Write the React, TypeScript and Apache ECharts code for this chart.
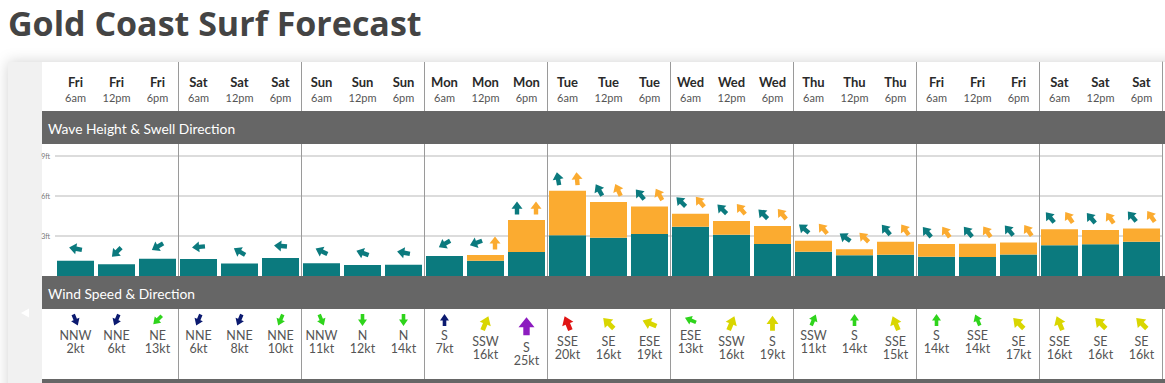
import React, { useEffect, useRef } from 'react';
import * as echarts from 'echarts';

// ---------- data ----------
const days = ['Fri', 'Sat', 'Sun', 'Mon', 'Tue', 'Wed', 'Thu', 'Fri', 'Sat'];
const times = ['6am', '12pm', '6pm'];

// wave heights in feet
const primarySwell = [1.15, 0.88, 1.3, 1.28, 0.93, 1.35, 0.95, 0.83, 0.85, 1.5, 1.15, 1.8, 3.05, 2.87, 3.15, 3.7, 3.1, 2.4, 1.82, 1.55, 1.6, 1.45, 1.42, 1.62, 2.3, 2.38, 2.57];
const secondarySwell = [0, 0, 0, 0, 0, 0, 0, 0, 0, 0, 0.43, 2.4, 3.35, 2.68, 2.07, 0.97, 1.02, 1.35, 0.83, 0.45, 0.97, 0.95, 1.0, 0.9, 1.2, 1.07, 1.0];
// direction the swell arrow points to (degrees clockwise from north)
const primaryDir = [280, 225, 240, 265, 300, 275, 295, 290, 280, 240, 250, 0, 350, 330, 320, 315, 315, 315, 310, 305, 320, 320, 320, 320, 320, 320, 320];
const secondaryDir = [-1, -1, -1, -1, -1, -1, -1, -1, -1, -1, 0, 0, 355, 335, 330, 320, 320, 320, 320, 315, 325, 325, 325, 325, 325, 325, 325];

const windDir = ['NNW', 'NNE', 'NE', 'NNE', 'NNE', 'NNE', 'NNW', 'N', 'N', 'S', 'SSW', 'S', 'SSE', 'SE', 'ESE', 'ESE', 'SSW', 'S', 'SSW', 'S', 'SSE', 'S', 'SSE', 'SE', 'SSE', 'SE', 'SE'];
const windSpeed = [2, 6, 13, 6, 8, 10, 11, 12, 14, 7, 16, 25, 20, 16, 19, 13, 16, 19, 11, 14, 15, 14, 14, 17, 16, 16, 16];

const yTicks = [0, 3, 6, 9];

// ---------- styles ----------
const TEAL = '#0b7a7e';
const ORANGE = '#fbab30';
const GRAY_BAR = '#666666';
const SEP = '#9a9a9a';
const FONT = 'Lato, "Noto Sans", sans-serif';

const COMPASS: Record<string, number> = {
  N: 0, NNE: 22.5, NE: 45, ENE: 67.5, E: 90, ESE: 112.5, SE: 135, SSE: 157.5,
  S: 180, SSW: 202.5, SW: 225, WSW: 247.5, W: 270, WNW: 292.5, NW: 315, NNW: 337.5,
};

const ARROW = 'M5 0 L10 5.5 L7 5.5 L7 10 L3 10 L3 5.5 L0 5.5 Z';

function arrowEl(cx: number, cy: number, w: number, l: number, bearing: number, color: string) {
  return {
    type: 'path',
    x: cx,
    y: cy,
    rotation: (-bearing * Math.PI) / 180,
    shape: { pathData: ARROW, x: -w / 2, y: -l / 2, width: w, height: l, layout: 'cover' },
    style: { fill: color },
  };
}

function windColor(s: number) {
  if (s < 10) return '#0b1a70';
  if (s < 15) return '#2fd41c';
  if (s < 20) return '#d9d600';
  if (s < 25) return '#e01414';
  return '#8c1cbf';
}

const categories = days.flatMap((d) => times.map((t) => `${d} ${t}`));

export default function App() {
  const ref = useRef<HTMLDivElement>(null);

  useEffect(() => {
    if (!ref.current) return;
    const chart = echarts.init(ref.current, undefined, { renderer: 'svg' });

    const option: any = {
      animation: false,
      grid: [
        { left: 55, right: 3, top: 62, bottom: 4 }, // frame (header + separators)
        { left: 55, right: 3, top: 156, height: 120 }, // waves
        { left: 55, right: 3, top: 314, height: 65 }, // wind
      ],
      xAxis: [
        {
          gridIndex: 0,
          type: 'category',
          data: categories,
          position: 'top',
          axisLine: { show: false },
          axisTick: { show: false },
          axisLabel: {
            inside: true,
            interval: 0,
            margin: 11,
            formatter: (_v: string, i: number) => `{d|${days[Math.floor(i / 3)]}}\n{t|${times[i % 3]}}`,
            rich: {
              d: { fontFamily: FONT, fontWeight: 'bold', fontSize: 13, color: '#2a2a2a', lineHeight: 17, align: 'center' },
              t: { fontFamily: FONT, fontSize: 11, color: '#555', lineHeight: 15, align: 'center' },
            },
          },
          splitLine: {
            show: true,
            interval: (i: number) => i % 3 === 0 && i > 0,
            lineStyle: { color: SEP, width: 1 },
          },
        },
        { gridIndex: 1, type: 'category', data: categories, show: false },
        { gridIndex: 2, type: 'category', data: categories, show: false },
      ],
      yAxis: [
        {
          gridIndex: 0,
          type: 'value',
          min: 0,
          max: 1,
          position: 'right',
          axisLine: { show: true, lineStyle: { color: SEP, width: 1 } },
          axisTick: { show: false },
          axisLabel: { show: false },
          splitLine: { show: false },
        },
        {
          gridIndex: 1,
          type: 'value',
          min: yTicks[0],
          max: yTicks[yTicks.length - 1],
          interval: 3,
          axisLine: { show: false },
          axisTick: { show: false },
          axisLabel: {
            margin: 5,
            fontSize: 7,
            color: '#777',
            fontFamily: FONT,
            formatter: (v: number) => (v === 0 ? '' : `${v}ft`),
          },
          splitLine: {
            show: true,
            lineStyle: { color: ['rgba(0,0,0,0)', '#dcdcdc', '#dcdcdc', '#dcdcdc'], width: 2 },
          },
        },
        { gridIndex: 2, type: 'value', show: false, min: 0, max: 1 },
      ],
      series: [
        {
          type: 'bar',
          xAxisIndex: 1,
          yAxisIndex: 1,
          stack: 'swell',
          barWidth: 37,
          data: primarySwell,
          itemStyle: { color: TEAL },
        },
        {
          type: 'bar',
          xAxisIndex: 1,
          yAxisIndex: 1,
          stack: 'swell',
          barWidth: 37,
          data: secondarySwell,
          itemStyle: { color: ORANGE },
        },
        {
          type: 'custom',
          xAxisIndex: 1,
          yAxisIndex: 1,
          data: primarySwell.map((p, i) => [i, p + secondarySwell[i]]),
          renderItem: (params: any, api: any) => {
            const i = params.dataIndex;
            const pt = api.coord([api.value(0), api.value(1)]);
            const y = pt[1] - 12;
            const children: any[] = [];
            if (secondarySwell[i] > 0) {
              children.push(arrowEl(pt[0] - 9.5, y, 11, 13, primaryDir[i], TEAL));
              children.push(arrowEl(pt[0] + 9.5, y, 11, 13, secondaryDir[i], ORANGE));
            } else {
              children.push(arrowEl(pt[0], y, 11, 13, primaryDir[i], TEAL));
            }
            return { type: 'group', children };
          },
          z: 5,
        },
        {
          type: 'custom',
          xAxisIndex: 2,
          yAxisIndex: 2,
          data: windSpeed.map((_s, i) => [i, 1]),
          renderItem: (params: any, api: any) => {
            const i = params.dataIndex;
            const s = windSpeed[i];
            const pt = api.coord([api.value(0), api.value(1)]);
            const box = s < 15 ? 12 : s < 25 ? 18.5 : 24.5;
            const w = s < 15 ? 9 : s < 25 ? 12 : 16;
            const l = s < 15 ? 12 : s < 25 ? 15 : 18;
            const bearing = (COMPASS[windDir[i]] + 180) % 360;
            const top = pt[1];
            const textStyle = { fill: '#555', fontSize: 12.5, fontFamily: FONT, align: 'center', verticalAlign: 'middle' };
            return {
              type: 'group',
              children: [
                arrowEl(pt[0], top + box / 2, w, l, bearing, windColor(s)),
                { type: 'text', x: pt[0], y: top + box + 9, style: { ...textStyle, text: windDir[i] } },
                { type: 'text', x: pt[0], y: top + box + 22, style: { ...textStyle, text: `${s}kt` } },
              ],
            };
          },
        },
      ],
      graphic: [
        {
          type: 'rect',
          z: -10,
          shape: { x: 8, y: 62, width: 1200, height: 360 },
          style: { fill: '#fff', shadowBlur: 14, shadowColor: 'rgba(0,0,0,0.18)' },
        },
        { type: 'rect', z: -9, shape: { x: 8, y: 62, width: 34, height: 340 }, style: { fill: '#f1f1f1' } },
        { type: 'polygon', z: -8, shape: { points: [[21, 313], [29, 308.5], [29, 317.5]] }, style: { fill: '#fff' } },
        { type: 'rect', z: 10, shape: { x: 42, y: 111, width: 1130, height: 33 }, style: { fill: GRAY_BAR } },
        { type: 'rect', z: 10, shape: { x: 42, y: 276, width: 1130, height: 33 }, style: { fill: GRAY_BAR } },
        { type: 'rect', z: 10, shape: { x: 42, y: 379, width: 1130, height: 10 }, style: { fill: GRAY_BAR } },
        {
          type: 'text', z: 11, x: 48, y: 128,
          style: { text: 'Wave Height & Swell Direction', fill: '#fff', fontSize: 13.8, fontFamily: FONT, verticalAlign: 'middle' },
        },
        {
          type: 'text', z: 11, x: 48, y: 293,
          style: { text: 'Wind Speed & Direction', fill: '#fff', fontSize: 13.8, fontFamily: FONT, verticalAlign: 'middle' },
        },
        {
          type: 'text', z: 11, x: 8, y: 23,
          style: { text: 'Gold Coast Surf Forecast', fill: '#444444', fontSize: 34, fontWeight: 'bold', fontFamily: '"Open Sans", sans-serif', verticalAlign: 'middle' },
        },
      ],
    };

    chart.setOption(option);
    return () => chart.dispose();
  }, []);

  return (
    <div
      ref={ref}
      style={{ position: 'absolute', left: 0, top: 0, width: 1165, height: 383 }}
    />
  );
}
